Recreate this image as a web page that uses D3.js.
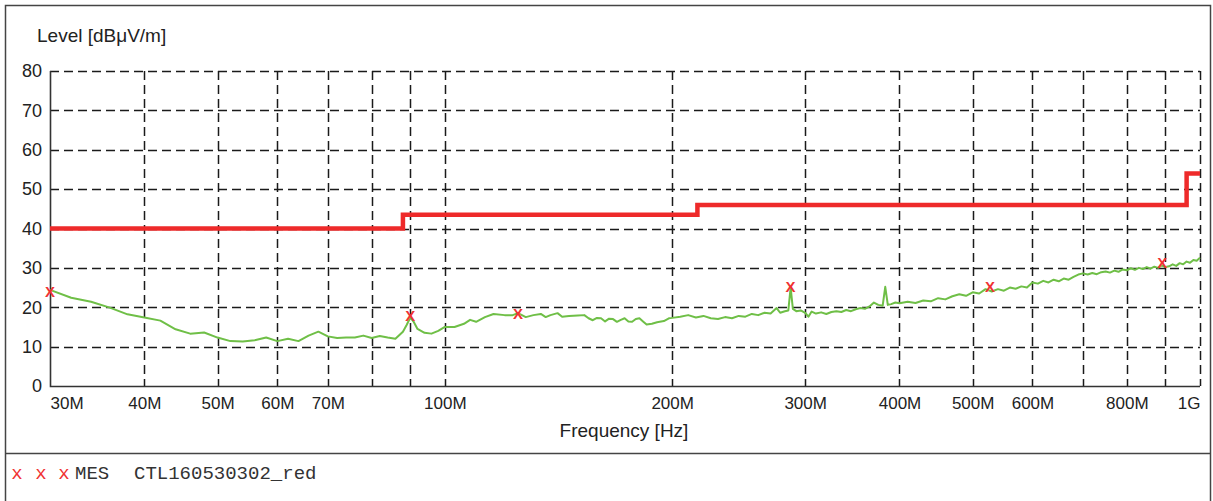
<!DOCTYPE html>
<html>
<head>
<meta charset="utf-8">
<script src="https://cdn.jsdelivr.net/npm/d3@7"></script>
<style>
  body { margin: 0; background: #fff; }
  text { font-family: "Liberation Sans", Arial, sans-serif; fill: #222; }
  .mono { font-family: "Liberation Mono", "Courier New", monospace; }
</style>
</head>
<body>
<div id="chart"></div>
<script>
var svgWidth = 1213;
var svgHeight = 501;

// axis ticks and grid
var yTicks = [0, 10, 20, 30, 40, 50, 60, 70, 80];
var xTickValues = [30, 40, 50, 60, 70, 100, 200, 300, 400, 500, 600, 800, 1000];
var xTickLabels = ["30M", "40M", "50M", "60M", "70M", "100M", "200M", "300M", "400M", "500M", "600M", "800M", "1G"];
var xGridValues = [40, 50, 60, 70, 80, 90, 100, 200, 300, 400, 500, 600, 700, 800, 900, 1000];

// limit line (MHz, dBuV/m), step after
var limitFreq = [30, 88, 216, 960, 1000];
var limitLevel = [40, 43.5, 46, 54, 54];

// measured trace (MHz, dBuV/m)
var traceFreq = [30, 32, 34, 36, 38, 40, 42, 44, 46, 48, 50, 52, 54, 56, 58, 60, 62, 64, 66, 68,
  70, 72, 74, 76, 78, 80, 82, 84, 86, 88, 89, 90, 91, 92, 94, 96, 98, 100,
  103, 106, 108, 110, 113, 116, 120, 123, 125, 128, 131, 134, 136, 138, 141, 143, 146, 150,
  153, 155, 157, 159, 161, 163, 165, 167, 169, 171, 173, 175, 177, 179, 181, 183, 185, 188,
  191, 195, 198, 200, 205, 210, 215, 220, 225, 230, 235, 240, 245, 250, 255, 260, 265, 270,
  275, 278, 282, 285, 287, 289, 292, 296, 300, 303, 306, 310, 315, 320, 325, 330, 335, 340,
  345, 350, 355, 360, 365, 370, 375, 380, 383, 386, 390, 395, 400,
  410, 420, 430, 440, 450, 460, 470, 480, 490, 500, 510, 520, 530, 540, 550, 560, 570, 580,
  590, 600, 610, 620, 630, 640, 650, 660, 670, 680, 690, 700, 710, 720, 730, 740, 750, 760,
  770, 780, 790, 800, 810, 820, 830, 840, 850, 860, 870, 880, 890, 900, 910, 920, 930, 940,
  950, 960, 970, 980, 990, 1000];
var traceLevel = [24.4, 22.4, 21.4, 19.9, 18.2, 17.4, 16.6, 14.4, 13.3, 13.6, 12.3, 11.4, 11.3, 11.6, 12.3, 11.4, 12.0, 11.4, 12.8, 13.8,
  12.6, 12.2, 12.3, 12.3, 12.8, 12.2, 12.7, 12.3, 12.0, 13.8, 15.5, 17.4, 16.2, 14.5, 13.5, 13.3, 14.0, 15.0,
  15.0, 15.8, 16.8, 16.3, 17.5, 18.3, 18.0, 18.0, 18.5, 17.5, 18.0, 18.3, 17.5, 18.0, 18.5, 17.6, 17.8, 17.9,
  18.0, 17.2, 16.7, 17.3, 17.2, 16.4, 17.1, 17.0, 16.3, 16.8, 17.2, 16.4, 16.3, 17.0, 17.2, 16.4, 15.6, 15.8,
  16.2, 16.5, 17.2, 17.3, 17.6, 18.0, 17.4, 17.8, 17.2, 17.0, 17.5, 17.2, 17.8, 17.6, 18.3, 18.0, 18.6, 18.4,
  19.8, 18.6, 19.0, 19.2, 25.0, 19.6, 19.0, 19.2, 18.6, 17.6, 18.9, 18.4, 18.7, 18.3, 18.8, 19.0, 18.8, 19.3,
  19.0, 19.5, 19.8, 19.6, 20.2, 21.2, 20.6, 20.4, 25.2, 20.6, 20.8, 21.2, 21.0,
  21.4, 21.1, 21.7, 21.5, 22.3, 22.0, 22.8, 23.3, 22.9, 23.8, 23.5, 24.6, 24.0, 24.6, 24.2, 25.0, 24.7, 25.3,
  25.0, 26.3, 26.0, 26.7, 26.3, 27.0, 26.6, 27.3, 27.0, 27.7, 28.3, 28.6, 28.3, 28.7, 28.4, 28.9, 29.1, 28.8,
  29.3, 29.0, 29.6, 29.4, 29.9, 29.5, 30.0, 29.7, 30.2, 29.8, 30.3, 30.0, 30.6, 30.2, 30.4, 30.9, 30.5, 31.2,
  30.9, 31.6, 31.3, 32.0, 31.8, 32.6];

// final measurement markers
var markerFreq = [30, 90, 125, 287, 527, 891];
var markerLevel = [24.1, 17.8, 18.4, 25.3, 25.2, 31.3];

var plot = { left: 50, right: 1200, top: 71, bottom: 386 };

var svg = d3.select("#chart")
  .append("svg")
  .attr("width", svgWidth)
  .attr("height", svgHeight);

// outer frame and legend divider
svg.append("rect")
  .attr("x", 5.5).attr("y", 5.5)
  .attr("width", 1205).attr("height", 520)
  .attr("fill", "none")
  .attr("stroke", "#444")
  .attr("stroke-width", 1.5);
svg.append("line")
  .attr("x1", 5).attr("x2", 1211)
  .attr("y1", 453.5).attr("y2", 453.5)
  .attr("stroke", "#444")
  .attr("stroke-width", 1.5);

var xScale = d3.scaleLog()
  .domain([30, 1000])
  .range([plot.left, plot.right]);

var yScale = d3.scaleLinear()
  .domain([0, 80])
  .range([plot.bottom, plot.top]);

// dashed grid
var grid = svg.append("g")
  .attr("stroke", "#1a1a1a")
  .attr("stroke-width", 1.5)
  .attr("stroke-dasharray", "9,5");

grid.selectAll(".hgrid")
  .data(yTicks.filter(d => d > 0))
  .enter()
  .append("line")
  .attr("x1", plot.left)
  .attr("x2", plot.right)
  .attr("y1", d => Math.round(yScale(d)) + 0.5)
  .attr("y2", d => Math.round(yScale(d)) + 0.5);

grid.selectAll(".vgrid")
  .data(xGridValues)
  .enter()
  .append("line")
  .attr("x1", d => Math.round(xScale(d)) + 0.5)
  .attr("x2", d => Math.round(xScale(d)) + 0.5)
  .attr("y1", plot.top)
  .attr("y2", plot.bottom);

// solid left and bottom axes
svg.append("path")
  .attr("d", `M${plot.left + 0.5},${plot.top}V${plot.bottom + 0.5}H${plot.right}`)
  .attr("fill", "none")
  .attr("stroke", "#333")
  .attr("stroke-width", 1.6);

// y axis labels
var leftAxis = d3.axisLeft(yScale)
  .tickValues(yTicks)
  .tickSize(0)
  .tickPadding(8);

var yAxis = svg.append("g")
  .attr("transform", `translate(${plot.left}, 0)`)
  .call(leftAxis);
yAxis.select(".domain").remove();
yAxis.selectAll("text")
  .attr("font-size", 18)
  .attr("font-family", "Liberation Sans, Arial, sans-serif")
  .attr("fill", "#1a1a1a");

// x axis labels
var bottomAxis = d3.axisBottom(xScale)
  .tickValues(xTickValues)
  .tickFormat((d, i) => xTickLabels[i])
  .tickSize(0)
  .tickPadding(11);

var xAxis = svg.append("g")
  .attr("transform", `translate(0, ${plot.bottom})`)
  .call(bottomAxis);
xAxis.select(".domain").remove();
xAxis.selectAll("text")
  .attr("font-size", 17)
  .attr("font-family", "Liberation Sans, Arial, sans-serif")
  .attr("fill", "#1a1a1a")
  .attr("text-anchor", (d, i) => i === 0 ? "start" : (i === xTickValues.length - 1 ? "end" : "middle"));

// axis titles
svg.append("text")
  .attr("x", 37)
  .attr("y", 42)
  .attr("font-size", 19)
  .text("Level [dBμV/m]");

svg.append("text")
  .attr("x", 624)
  .attr("y", 437)
  .attr("text-anchor", "middle")
  .attr("font-size", 19)
  .text("Frequency [Hz]");

// limit line
var limitData = limitFreq.map((f, i) => ({ f: f, v: limitLevel[i] }));
var limitLine = d3.line()
  .x(d => xScale(d.f))
  .y(d => yScale(d.v))
  .curve(d3.curveStepAfter);

svg.append("path")
  .datum(limitData)
  .attr("d", limitLine)
  .attr("fill", "none")
  .attr("stroke", "#ee2a2a")
  .attr("stroke-width", 4.5);

// measured trace
var traceData = traceFreq.map((f, i) => ({ f: f, v: traceLevel[i] }));
var traceLine = d3.line()
  .x(d => xScale(d.f))
  .y(d => yScale(d.v));

svg.append("path")
  .datum(traceData)
  .attr("d", traceLine)
  .attr("fill", "none")
  .attr("stroke", "#6fbf47")
  .attr("stroke-width", 2)
  .attr("stroke-linejoin", "round");

// markers
svg.selectAll(".marker")
  .data(markerFreq)
  .enter()
  .append("text")
  .attr("x", d => xScale(d))
  .attr("y", (d, i) => yScale(markerLevel[i]))
  .attr("dy", "0.36em")
  .attr("text-anchor", "middle")
  .attr("font-size", 15)
  .attr("font-weight", "bold")
  .style("fill", "#f03232")
  .text("X");

// legend
var legend = svg.append("g").attr("class", "legend");
var legendX = [17, 41, 64];
legend.selectAll(".lx")
  .data(legendX)
  .enter()
  .append("text")
  .attr("class", "mono")
  .attr("x", d => d)
  .attr("y", 479)
  .attr("text-anchor", "middle")
  .attr("font-size", 19)
  .style("fill", "#f03232")
  .text("x");

legend.append("text")
  .attr("class", "mono")
  .attr("x", 75)
  .attr("y", 479)
  .attr("font-size", 19)
  .style("fill", "#333")
  .text("MES");

legend.append("text")
  .attr("class", "mono")
  .attr("x", 134)
  .attr("y", 479)
  .attr("font-size", 19)
  .style("fill", "#333")
  .text("CTL160530302_red");
</script>
</body>
</html>
